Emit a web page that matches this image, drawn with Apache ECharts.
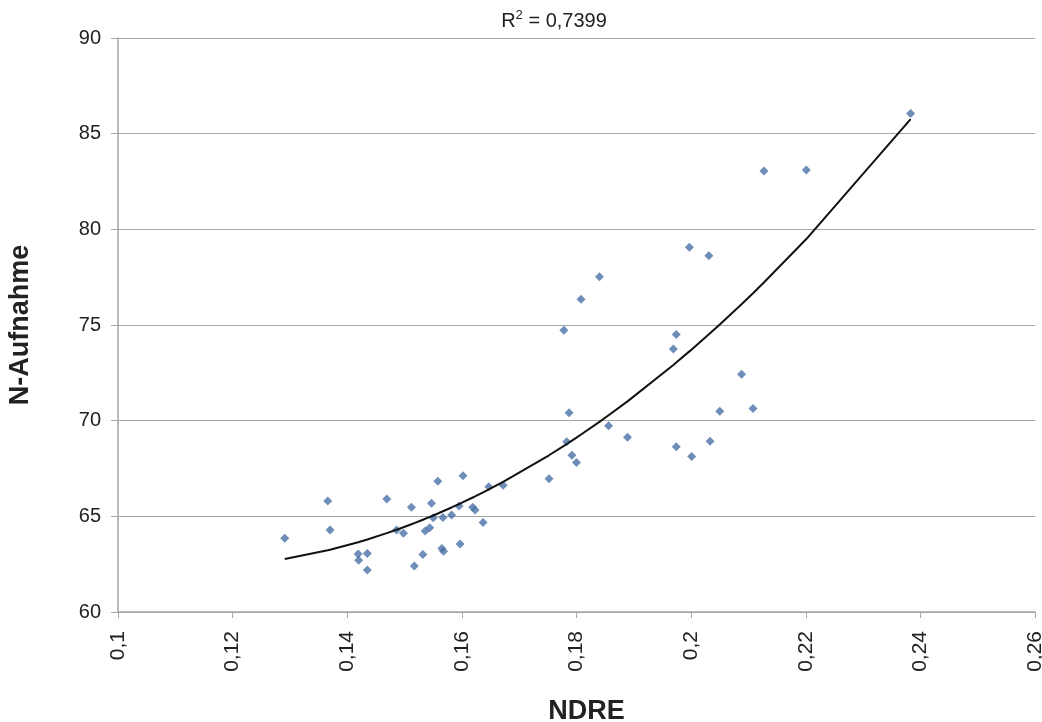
<!DOCTYPE html>
<html>
<head>
<meta charset="utf-8">
<script src="https://cdn.jsdelivr.net/npm/echarts@6/dist/echarts.min.js"></script>
<style>
  html, body { margin: 0; padding: 0; background: #fff; }
  #chart { width: 1042px; height: 722px; }
</style>
</head>
<body>
<div id="chart"></div>
<script>
// NDRE values (x) and N-Aufnahme values (y)
const ndre = [
  0.1291, 0.1366, 0.1370, 0.1419, 0.1420, 0.1435, 0.1435, 0.1469, 0.1486, 0.1498,
  0.1512, 0.1517, 0.1532, 0.1536, 0.1544, 0.1547, 0.1550, 0.1558, 0.1565, 0.1568,
  0.1567, 0.1582, 0.1595, 0.1597, 0.1602, 0.1619, 0.1623, 0.1637, 0.1647, 0.1672,
  0.1997, 0.2031, 0.1840, 0.1808, 0.1778, 0.1974, 0.1969, 0.2088, 0.1787, 0.2050,
  0.2108, 0.1856, 0.1889, 0.1783, 0.1974, 0.2033, 0.1792, 0.2001, 0.1800, 0.1752,
  0.2383, 0.2127, 0.2201
];
const nAufnahme = [
  63.86, 65.80, 64.28, 63.03, 62.71, 63.06, 62.19, 65.90, 64.28, 64.11,
  65.47, 62.40, 63.01, 64.23, 64.40, 65.68, 64.92, 66.83, 63.32, 63.18,
  64.94, 65.07, 65.54, 63.55, 67.12, 65.47, 65.33, 64.68, 66.55, 66.62,
  79.06, 78.62, 77.52, 76.34, 74.72, 74.51, 73.74, 72.42, 70.41, 70.49,
  70.64, 69.73, 69.13, 68.90, 68.64, 68.92, 68.19, 68.13, 67.82, 66.96,
  86.06, 83.05, 83.10
];
const r2Label = '0,7399';

const points = ndre.map((x, i) => [x, nAufnahme[i]]);

// polynomial (order 2) trend line, least squares fit of the points
function quadFit(xs, ys) {
  let s = [0, 0, 0, 0, 0], t = [0, 0, 0];
  xs.forEach((x, i) => {
    let p = 1;
    for (let k = 0; k < 5; k++) { s[k] += p; if (k < 3) t[k] += p * ys[i]; p *= x; }
  });
  const A = [[s[0], s[1], s[2], t[0]], [s[1], s[2], s[3], t[1]], [s[2], s[3], s[4], t[2]]];
  for (let c = 0; c < 3; c++) {
    for (let r = c + 1; r < 3; r++) {
      const f = A[r][c] / A[c][c];
      for (let k = c; k < 4; k++) A[r][k] -= f * A[c][k];
    }
  }
  const b = [0, 0, 0];
  for (let r = 2; r >= 0; r--) {
    let v = A[r][3];
    for (let k = r + 1; k < 3; k++) v -= A[r][k] * b[k];
    b[r] = v / A[r][r];
  }
  return b;
}
const coef = quadFit(ndre, nAufnahme);
const sortedX = ndre.slice().sort((a, b) => a - b);
const trend = sortedX.map(x => [x, coef[0] + coef[1] * x + coef[2] * x * x]);

const myChart = echarts.init(document.getElementById('chart'));
const option = {
  animation: false,
  title: {
    text: 'R{sup|2} = ' + r2Label,
    left: 549,
    top: 4,
    textAlign: 'center',
    textStyle: {
      fontFamily: 'Liberation Sans',
      fontSize: 20,
      fontWeight: 'normal',
      color: '#222',
      rich: {
        sup: { fontSize: 13, verticalAlign: 'top', padding: [0, 0, 11, 0], color: '#222', fontFamily: 'Liberation Sans' }
      }
    }
  },
  grid: { left: 118, right: 7, top: 38, bottom: 110, containLabel: false, outerBoundsMode: 'none' },
  xAxis: {
    type: 'value',
    min: 0.1,
    max: 0.26,
    interval: 0.02,
    name: 'NDRE',
    nameLocation: 'middle',
    nameGap: 86,
    nameTextStyle: { fontFamily: 'Liberation Sans', fontSize: 27, fontWeight: 'bold', color: '#222', padding: [0, 0, 0, 20] },
    axisLine: { lineStyle: { color: '#a6a6a6', width: 1.5 } },
    axisTick: { show: true, length: 6, lineStyle: { color: '#a6a6a6' } },
    splitLine: { show: false },
    axisLabel: {
      rotate: 90,
      margin: 19,
      fontFamily: 'Liberation Sans',
      fontSize: 21,
      color: '#222',
      formatter: v => String(+v.toFixed(2)).replace('.', ',')
    }
  },
  yAxis: {
    type: 'value',
    min: 60,
    max: 90,
    interval: 5,
    name: 'N-Aufnahme',
    nameLocation: 'middle',
    nameGap: 84,
    nameTextStyle: { fontFamily: 'Liberation Sans', fontSize: 27, fontWeight: 'bold', color: '#222' },
    axisLine: { show: true, lineStyle: { color: '#a6a6a6', width: 1.5 } },
    axisTick: { show: true, length: 7, lineStyle: { color: '#a6a6a6' } },
    splitLine: { show: true, lineStyle: { color: '#a6a6a6', width: 1.2 } },
    axisLabel: { margin: 17, fontFamily: 'Liberation Sans', fontSize: 20, color: '#222' }
  },
  series: [
    {
      type: 'scatter',
      data: points,
      symbol: 'diamond',
      symbolSize: 9,
      itemStyle: { color: '#4a72a8' }
    },
    {
      type: 'line',
      data: trend,
      showSymbol: false,
      smooth: false,
      lineStyle: { color: '#111', width: 2 }
    }
  ]
};
myChart.setOption(option);
</script>
</body>
</html>
